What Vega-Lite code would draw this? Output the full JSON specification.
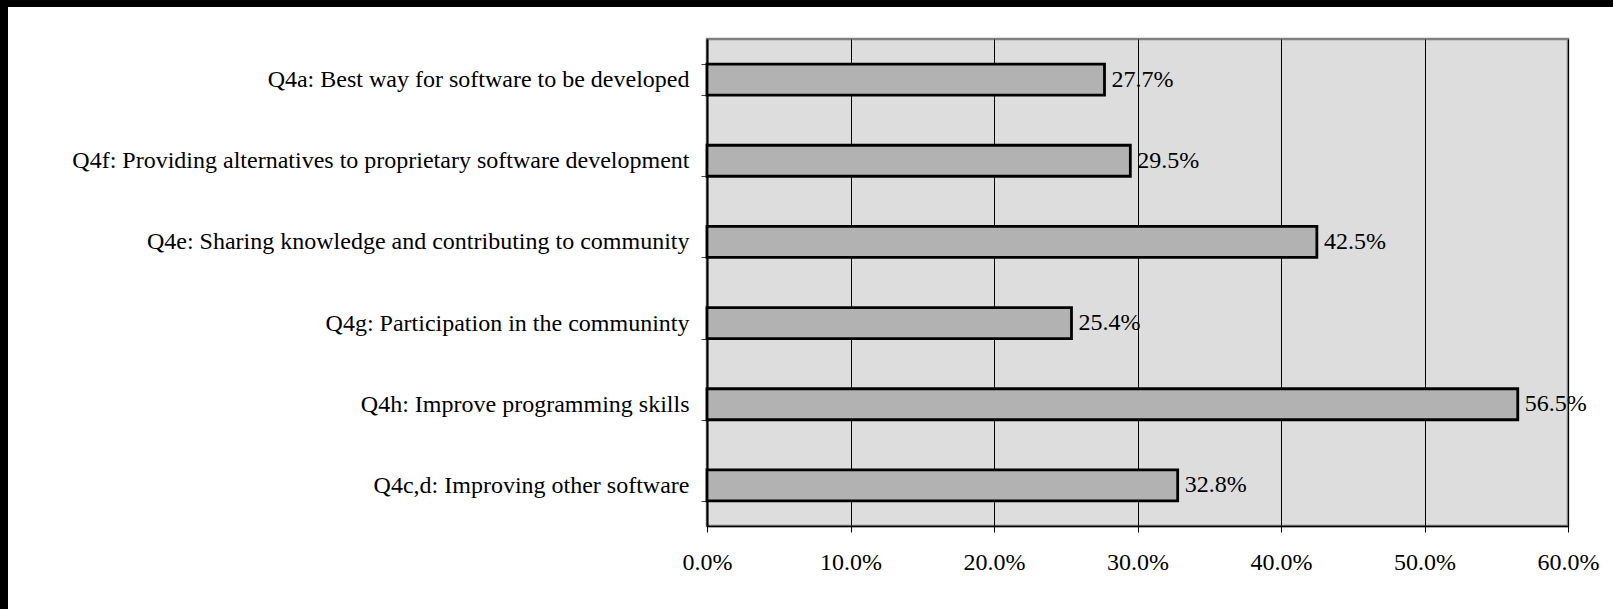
{
  "$schema": "https://vega.github.io/schema/vega-lite/v6.json",
  "background": "white",
  "padding": 0,
  "config": {
    "font": "Liberation Serif",
    "concat": {"spacing": 0}
  },
  "spacing": 0,
  "vconcat": [
    {
      "data": {"values": []},
      "mark": "point",
      "encoding": {},
      "width": 1613,
      "height": 7,
      "view": {"fill": "black", "stroke": null}
    },
    {
      "spacing": 0,
      "hconcat": [
        {
          "data": {"values": []},
          "mark": "point",
          "encoding": {},
          "width": 8,
          "height": 602,
          "view": {"fill": "black", "stroke": null}
        },
        {
          "spacing": 17,
          "vconcat": [
            {
              "data": {"values": []},
              "mark": "point",
              "encoding": {},
              "width": 861,
              "height": 1,
              "view": {"fill": null, "stroke": null}
            },
            {
              "width": 861,
              "height": 487,
              "view": {"fill": "#DDDDDD", "stroke": "#808080", "strokeWidth": 2.5},
              "data": {
                "values": [
                  {"item": "Q4a: Best way for software to be developed", "share": 0.277},
                  {"item": "Q4f: Providing alternatives to proprietary software development", "share": 0.295},
                  {"item": "Q4e: Sharing knowledge and contributing to community", "share": 0.425},
                  {"item": "Q4g: Participation in the communinty", "share": 0.254},
                  {"item": "Q4h: Improve programming skills", "share": 0.565},
                  {"item": "Q4c,d: Improving other software", "share": 0.328}
                ]
              },
              "encoding": {
                "y": {
                  "field": "item",
                  "type": "nominal",
                  "sort": null,
                  "title": null,
                  "scale": {"paddingInner": 0.618, "paddingOuter": 0.309},
                  "axis": {
                    "tickBand": "extent",
                    "domainColor": "black",
                    "domainWidth": 2,
                    "tickColor": "#444444",
                    "tickSize": 6,
                    "tickWidth": 1,
                    "labelPadding": 12,
                    "labelFont": "Liberation Serif",
                    "labelFontSize": 24,
                    "labelColor": "black",
                    "labelLimit": 800,
                    "minExtent": 697.7,
                    "maxExtent": 697.7,
                    "grid": false
                  }
                },
                "x": {
                  "field": "share",
                  "type": "quantitative",
                  "title": null,
                  "scale": {"domain": [0, 0.6], "nice": false},
                  "axis": {
                    "values": [0, 0.1, 0.2, 0.3, 0.4, 0.5, 0.6],
                    "format": ".1%",
                    "grid": true,
                    "gridColor": "black",
                    "gridWidth": 1,
                    "gridOpacity": 1,
                    "domainColor": "black",
                    "domainWidth": 1.5,
                    "tickColor": "black",
                    "tickSize": 6,
                    "labelPadding": 18,
                    "labelFont": "Liberation Serif",
                    "labelFontSize": 24,
                    "labelColor": "black",
                    "labelFlush": false
                  }
                }
              },
              "layer": [
                {
                  "mark": {"type": "bar", "fill": "#B2B2B2", "stroke": "black", "strokeWidth": 2.8}
                },
                {
                  "mark": {
                    "type": "text",
                    "align": "left",
                    "baseline": "middle",
                    "dx": 7,
                    "font": "Liberation Serif",
                    "fontSize": 24,
                    "color": "black"
                  },
                  "encoding": {
                    "text": {"field": "share", "type": "quantitative", "format": ".1%"}
                  }
                }
              ]
            }
          ]
        }
      ]
    }
  ]
}
